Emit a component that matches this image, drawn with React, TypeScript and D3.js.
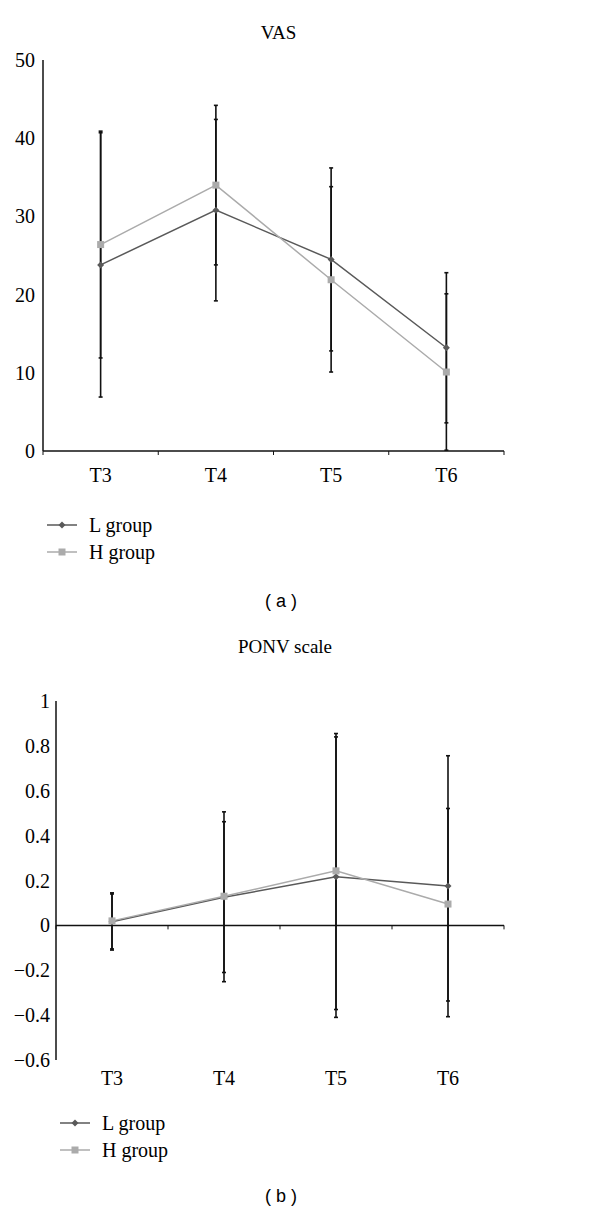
import React from 'react'
import * as d3 from 'd3'

// shared categories
const times = ['T3', 'T4', 'T5', 'T6']
const groups = ['L group', 'H group']

// VAS panel (a)
const vasL = [23.8, 30.8, 24.5, 13.2]
const vasLLow = [6.9, 19.2, 12.8, 3.6]
const vasLHigh = [40.7, 42.4, 36.2, 22.8]
const vasH = [26.4, 34.0, 21.9, 10.1]
const vasHLow = [11.9, 23.8, 10.1, 0.1]
const vasHHigh = [40.9, 44.2, 33.8, 20.1]
const vasTicks = [0, 10, 20, 30, 40, 50]

// PONV panel (b)
const ponvL = [0.016, 0.125, 0.217, 0.175]
const ponvLLow = [-0.11, -0.21, -0.41, -0.407]
const ponvLHigh = [0.14, 0.462, 0.84, 0.756]
const ponvH = [0.02, 0.13, 0.243, 0.095]
const ponvHLow = [-0.105, -0.251, -0.375, -0.337]
const ponvHHigh = [0.145, 0.506, 0.855, 0.521]
const ponvTicks = [-0.6, -0.4, -0.2, 0, 0.2, 0.4, 0.6, 0.8, 1]

const darkCol = '#595959'
const lightCol = '#ababab'
const serif = 'Liberation Serif, Times New Roman, serif'
const sans = 'Liberation Sans, Arial, sans-serif'

type PanelProps = {
    title: string
    titleY: number
    x0: number
    x1: number
    yTop: number
    yBottom: number
    domain: [number, number]
    ticks: number[]
    fmt: (v: number) => string
    labelX: number
    catY: number
    lSeries: number[][]
    hSeries: number[][]
    legendX: number
    legendY: number
    caption: string
    captionY: number
}

const Panel = (p: PanelProps) => {
    const x = d3.scaleBand().domain(times).range([p.x0, p.x1])
    const y = d3.scaleLinear().domain(p.domain).range([p.yBottom, p.yTop])
    const cx = (t: string) => (x(t) as number) + x.bandwidth() / 2
    const axisY = y(0)
    const line = d3.line<number>()
        .x((d, i) => cx(times[i]))
        .y(d => y(d))

    const [lMean, lLow, lHigh] = p.lSeries
    const [hMean, hLow, hHigh] = p.hSeries

    const errBar = (t: string, lo: number, hi: number, k: string) => (
        <g key={k} stroke="#111" strokeWidth={1.6}>
            <line x1={cx(t)} x2={cx(t)} y1={y(lo)} y2={y(hi)}/>
            <line x1={cx(t) - 2} x2={cx(t) + 2} y1={y(lo)} y2={y(lo)}/>
            <line x1={cx(t) - 2} x2={cx(t) + 2} y1={y(hi)} y2={y(hi)}/>
        </g>
    )

    const diamond = (px: number, py: number, k: string) => (
        <path key={k} d={`M${px},${py - 3.5}L${px + 3.5},${py}L${px},${py + 3.5}L${px - 3.5},${py}Z`} fill={darkCol}/>
    )
    const square = (px: number, py: number, k: string) => (
        <rect key={k} x={px - 3.5} y={py - 3.5} width={7} height={7} fill={lightCol}/>
    )

    return (
        <g style={{ fontFamily: serif }}>
            <text x={(p.x0 + p.x1) / 2 + 5} y={p.titleY} textAnchor="middle" fontSize={19}>{p.title}</text>
            {/* y axis */}
            <line x1={p.x0} x2={p.x0} y1={p.yTop} y2={p.yBottom} stroke="#111" strokeWidth={1.5}/>
            {p.ticks.map(t => (
                <text key={t} x={p.labelX} y={y(t) + 7} textAnchor="end" fontSize={20}>{p.fmt(t)}</text>
            ))}
            {/* x axis */}
            <line x1={p.x0} x2={p.x1} y1={axisY} y2={axisY} stroke="#111" strokeWidth={1.5}/>
            {times.map(t => (
                <line key={t} x1={x(t) as number} x2={x(t) as number} y1={axisY} y2={axisY + 4} stroke="#111" strokeWidth={1}/>
            ))}
            <line x1={p.x1} x2={p.x1} y1={axisY} y2={axisY + 4} stroke="#111" strokeWidth={1}/>
            {times.map(t => (
                <text key={t} x={cx(t)} y={p.catY} textAnchor="middle" fontSize={20}>{t}</text>
            ))}
            {/* error bars */}
            {times.map((t, i) => errBar(t, lLow[i], lHigh[i], 'l' + t))}
            {times.map((t, i) => errBar(t, hLow[i], hHigh[i], 'h' + t))}
            {/* series */}
            <path d={line(lMean) as string} fill="none" stroke={darkCol} strokeWidth={1.5}/>
            <path d={line(hMean) as string} fill="none" stroke={lightCol} strokeWidth={1.5}/>
            {lMean.map((v, i) => diamond(cx(times[i]), y(v), 'dl' + i))}
            {hMean.map((v, i) => square(cx(times[i]), y(v), 'sh' + i))}
            {/* legend */}
            {groups.map((g, i) => {
                const ly = p.legendY + i * 27
                const col = i === 0 ? darkCol : lightCol
                return (
                    <g key={g}>
                        <line x1={p.legendX} x2={p.legendX + 30} y1={ly} y2={ly} stroke={col} strokeWidth={1.5}/>
                        {i === 0 ? diamond(p.legendX + 15, ly, 'ld') : square(p.legendX + 15, ly, 'ls')}
                        <text x={p.legendX + 42} y={ly + 7} fontSize={20}>{g}</text>
                    </g>
                )
            })}
            <text x={281} y={p.captionY} textAnchor="middle" fontSize={18} style={{ fontFamily: sans }}>{p.caption}</text>
        </g>
    )
}

export default function App() {
    const minus = (v: number) => (v < 0 ? '\u2212' + Math.abs(v) : String(v))
    return (
        <div style={{ position: 'absolute', left: 0, top: 0 }}>
            <svg width={600} height={1211} style={{ display: 'block' }}>
                <rect width={600} height={1211} fill="#fff"/>
                <Panel
                    title="VAS" titleY={39}
                    x0={43} x1={504} yTop={60} yBottom={451}
                    domain={[0, 50]} ticks={vasTicks} fmt={String} labelX={35}
                    catY={482}
                    lSeries={[vasL, vasLLow, vasLHigh]}
                    hSeries={[vasH, vasHLow, vasHHigh]}
                    legendX={47} legendY={525}
                    caption="( a )" captionY={607}
                />
                <Panel
                    title="PONV scale" titleY={653}
                    x0={56} x1={504} yTop={701} yBottom={1060}
                    domain={[-0.6, 1]} ticks={ponvTicks} fmt={minus} labelX={50}
                    catY={1085}
                    lSeries={[ponvL, ponvLLow, ponvLHigh]}
                    hSeries={[ponvH, ponvHLow, ponvHHigh]}
                    legendX={60} legendY={1123}
                    caption="( b )" captionY={1202}
                />
            </svg>
        </div>
    )
}
